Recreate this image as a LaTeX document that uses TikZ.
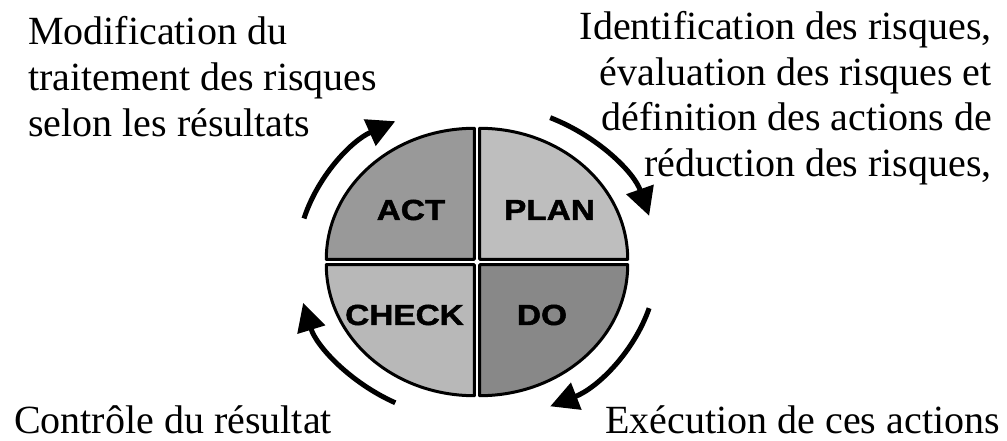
\documentclass[tikz,border=0pt]{standalone}
\usepackage{fontspec}
\setmainfont{Liberation Serif}
\newfontfamily\labelfont{Liberation Sans}[BoldFeatures={FakeBold=1.5}]
\usetikzlibrary{arrows.meta}

\definecolor{actfill}{RGB}{153,153,153}
\definecolor{planfill}{RGB}{190,190,190}
\definecolor{checkfill}{RGB}{184,184,184}
\definecolor{dofill}{RGB}{136,136,136}

\begin{document}
\begin{tikzpicture}[x=1pt,y=-1pt,
  quad/.style={draw=black,line width=3pt,line join=round},
  cyclearrow/.style={line width=5pt,-{Triangle[length=28pt,width=28pt]}},
  caption/.style={inner sep=0pt,font=\fontsize{40}{46}\selectfont},
  tag/.style={inner sep=0pt,font=\labelfont\bfseries\fontsize{29}{29}\selectfont}]
\useasboundingbox (0,0) rectangle (1007,441);

% centre of the cycle and the corners of the four quarters
\coordinate (C) at (477,262);
\coordinate (actc) at (474.3,259.3);
\coordinate (planc) at (479.7,259.3);
\coordinate (doc) at (479.7,264.7);
\coordinate (checkc) at (474.3,264.7);

% four quarters of the PDCA ellipse
\path[quad,fill=actfill] (actc) -- ++(-148,0)
  arc[start angle=180,end angle=270,x radius=148,y radius=131] -- cycle;
\path[quad,fill=planfill] (planc) -- ++(0,-131)
  arc[start angle=270,end angle=360,x radius=148,y radius=131] -- cycle;
\path[quad,fill=dofill] (doc) -- ++(148,0)
  arc[start angle=0,end angle=90,x radius=148,y radius=131] -- cycle;
\path[quad,fill=checkfill] (checkc) -- ++(0,131)
  arc[start angle=90,end angle=180,x radius=148,y radius=131] -- cycle;

\node[tag] (act) at (411,210) {\scalebox{1.15}[1]{ACT}};
\node[tag] (plan) at (549.5,210) {\scalebox{1.15}[1]{PLAN}};
\node[tag] (check) at (404.5,315) {\scalebox{1.15}[1]{CHECK}};
\node[tag] (do) at (542,315) {\scalebox{1.15}[1]{DO}};

% clockwise cycle arrows around the ellipse
\draw[cyclearrow] ([shift={(-164:180 and 158)}]C)
  arc[start angle=-164,end angle=-117,x radius=180,y radius=158];
\draw[cyclearrow] ([shift={(-66:180 and 158)}]C)
  arc[start angle=-66,end angle=-17,x radius=180,y radius=158];
\draw[cyclearrow] ([shift={(17:180 and 158)}]C)
  arc[start angle=17,end angle=66,x radius=180,y radius=158];
\draw[cyclearrow] ([shift={(117:180 and 158)}]C)
  arc[start angle=117,end angle=165,x radius=180,y radius=158];

% captions
\node[caption,anchor=base west] (tl1) at (28,45) {Modification du};
\node[caption,anchor=base west] (tl2) at (28,91) {traitement des risques};
\node[caption,anchor=base west] (tl3) at (28,137) {selon les résultats};

\node[caption,anchor=base east] (tr1) at (992,40) {Identification des risques,};
\node[caption,anchor=base east] (tr2) at (992,86) {évaluation des risques et};
\node[caption,anchor=base east] (tr3) at (992,131) {définition des actions de};
\node[caption,anchor=base east] (tr4) at (992,177) {réduction des risques,};

\node[caption,anchor=base west] (bl) at (14,433) {Contrôle du résultat};
\node[caption,anchor=base east] (br) at (1000,433) {Exécution de ces actions};
\end{tikzpicture}
\end{document}
